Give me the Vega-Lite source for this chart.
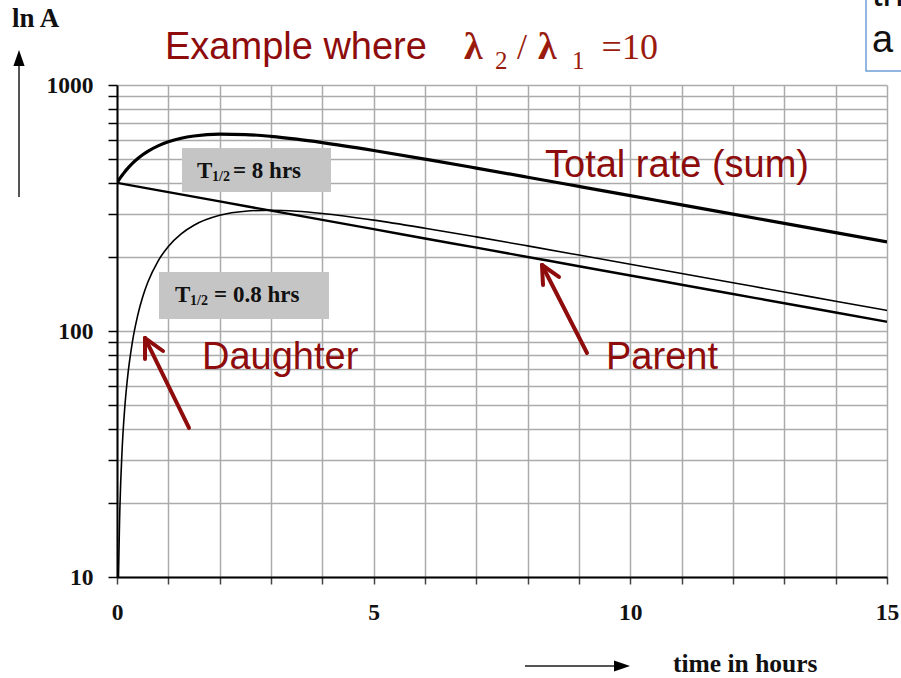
{
  "$schema": "https://vega.github.io/schema/vega-lite/v6.json",
  "width": 770,
  "height": 492,
  "autosize": {"type": "none"},
  "padding": {"left": 117, "top": 85, "right": 14, "bottom": 101},
  "background": "white",
  "config": {"view": {"stroke": null}},
  "datasets": {
    "curves": [
      {"series": "Total", "t": 0, "v": 400}, {"series": "Total", "t": 0.01, "v": 403.1}, {"series": "Total", "t": 0.03, "v": 409.2},
      {"series": "Total", "t": 0.05, "v": 415.2}, {"series": "Total", "t": 0.1, "v": 429.6}, {"series": "Total", "t": 0.15, "v": 443.3},
      {"series": "Total", "t": 0.2, "v": 456.2}, {"series": "Total", "t": 0.3, "v": 480.1}, {"series": "Total", "t": 0.4, "v": 501.4},
      {"series": "Total", "t": 0.5, "v": 520.5}, {"series": "Total", "t": 0.6, "v": 537.4}, {"series": "Total", "t": 0.8, "v": 565.7},
      {"series": "Total", "t": 1, "v": 587.5}, {"series": "Total", "t": 1.25, "v": 607.3}, {"series": "Total", "t": 1.5, "v": 620.4},
      {"series": "Total", "t": 2, "v": 631.5}, {"series": "Total", "t": 2.5, "v": 629.0}, {"series": "Total", "t": 3, "v": 618.1},
      {"series": "Total", "t": 3.5, "v": 602.1}, {"series": "Total", "t": 4, "v": 583.2}, {"series": "Total", "t": 5, "v": 541.7},
      {"series": "Total", "t": 6, "v": 499.7}, {"series": "Total", "t": 7, "v": 459.4}, {"series": "Total", "t": 8, "v": 421.8},
      {"series": "Total", "t": 9, "v": 387.0}, {"series": "Total", "t": 10, "v": 355.0}, {"series": "Total", "t": 11, "v": 325.5},
      {"series": "Total", "t": 12, "v": 298.5}, {"series": "Total", "t": 13, "v": 273.8}, {"series": "Total", "t": 14, "v": 251.1},
      {"series": "Total", "t": 15, "v": 230.2},
      {"series": "Parent", "t": 0, "v": 400}, {"series": "Parent", "t": 1, "v": 366.8}, {"series": "Parent", "t": 2, "v": 336.4},
      {"series": "Parent", "t": 3, "v": 308.4}, {"series": "Parent", "t": 4, "v": 282.8}, {"series": "Parent", "t": 5, "v": 259.4},
      {"series": "Parent", "t": 6, "v": 237.8}, {"series": "Parent", "t": 7, "v": 218.1}, {"series": "Parent", "t": 8, "v": 200},
      {"series": "Parent", "t": 9, "v": 183.4}, {"series": "Parent", "t": 10, "v": 168.2}, {"series": "Parent", "t": 11, "v": 154.2},
      {"series": "Parent", "t": 12, "v": 141.4}, {"series": "Parent", "t": 13, "v": 129.7}, {"series": "Parent", "t": 14, "v": 118.9},
      {"series": "Parent", "t": 15, "v": 109.1},
      {"series": "Daughter", "t": 0.005, "v": 1.73}, {"series": "Daughter", "t": 0.01, "v": 3.45}, {"series": "Daughter", "t": 0.02, "v": 6.87},
      {"series": "Daughter", "t": 0.03, "v": 10.25}, {"series": "Daughter", "t": 0.05, "v": 16.92}, {"series": "Daughter", "t": 0.1, "v": 33.06},
      {"series": "Daughter", "t": 0.15, "v": 48.43}, {"series": "Daughter", "t": 0.2, "v": 63.08}, {"series": "Daughter", "t": 0.3, "v": 90.33},
      {"series": "Daughter", "t": 0.4, "v": 115.0}, {"series": "Daughter", "t": 0.5, "v": 137.4}, {"series": "Daughter", "t": 0.6, "v": 157.7},
      {"series": "Daughter", "t": 0.8, "v": 192.5}, {"series": "Daughter", "t": 1, "v": 220.7}, {"series": "Daughter", "t": 1.25, "v": 248.4},
      {"series": "Daughter", "t": 1.5, "v": 269.1}, {"series": "Daughter", "t": 2, "v": 295.2}, {"series": "Daughter", "t": 2.5, "v": 306.9},
      {"series": "Daughter", "t": 3, "v": 309.7}, {"series": "Daughter", "t": 3.5, "v": 306.8}, {"series": "Daughter", "t": 4, "v": 300.4},
      {"series": "Daughter", "t": 5, "v": 282.4}, {"series": "Daughter", "t": 6, "v": 261.8}, {"series": "Daughter", "t": 7, "v": 241.3},
      {"series": "Daughter", "t": 8, "v": 221.8}, {"series": "Daughter", "t": 9, "v": 203.6}, {"series": "Daughter", "t": 10, "v": 186.8},
      {"series": "Daughter", "t": 11, "v": 171.3}, {"series": "Daughter", "t": 12, "v": 157.1}, {"series": "Daughter", "t": 13, "v": 144.1},
      {"series": "Daughter", "t": 14, "v": 132.1}, {"series": "Daughter", "t": 15, "v": 121.2}
    ],
    "boxes": [
      {"label": "T1/2 = 8 hrs", "t": 1.266, "t2": 4.169, "v": 554.5, "v2": 367.3},
      {"label": "T1/2 = 0.8 hrs", "t": 0.818, "t2": 4.130, "v": 173.7, "v2": 111.9}
    ],
    "boxText": [
      {"label": "T", "t": 1.558, "v": 418.8},
      {"label": "= 8 hrs", "t": 2.26, "v": 418.8},
      {"label": "T", "t": 1.13, "v": 131.2},
      {"label": "= 0.8 hrs", "t": 1.89, "v": 131.2}
    ],
    "boxSub": [
      {"label": "1/2", "t": 1.851, "v": 407.2},
      {"label": "1/2", "t": 1.422, "v": 127.5}
    ],
    "redText": [
      {"label": "Example where", "t": 0.935, "v": 1275.7},
      {"label": "Total rate (sum)", "t": 8.338, "v": 422.7},
      {"label": "Daughter", "t": 1.656, "v": 70.06},
      {"label": "Parent", "t": 9.526, "v": 70.06}
    ],
    "lambdas": [
      {"label": "λ", "t": 6.76, "v": 1275.7},
      {"label": "λ", "t": 8.202, "v": 1275.7}
    ],
    "ratioText": [
      {"label": "/", "t": 7.792, "v": 1275.7},
      {"label": "=10", "t": 9.44, "v": 1275.7}
    ],
    "ratioSub": [
      {"label": "2", "t": 7.364, "v": 1161.4},
      {"label": "1", "t": 8.864, "v": 1161.4}
    ],
    "pointers": [
      {"label": "Daughter", "t": 1.4026, "v": 40.34, "t2": 0.5455, "v2": 93.65},
      {"label": "Daughter", "t": 0.5455, "v": 93.65, "t2": 0.5455, "v2": 76.93},
      {"label": "Daughter", "t": 0.5455, "v": 93.65, "t2": 0.8961, "v2": 82.93},
      {"label": "Parent", "t": 9.156, "v": 81.38, "t2": 8.279, "v2": 185.48},
      {"label": "Parent", "t": 8.279, "v": 185.48, "t2": 8.299, "v2": 153.8},
      {"label": "Parent", "t": 8.279, "v": 185.48, "t2": 8.61, "v2": 165.8}
    ],
    "axisArrows": [
      {"label": "ln A", "t": -1.909, "v": 350.5, "t2": -1.909, "v2": 1217},
      {"label": "time in hours", "t": 7.948, "v": 4.347, "t2": 9.701, "v2": 4.347}
    ],
    "cornerBox": [
      {"t": 14.591, "t2": 15.45, "v": 2400, "v2": 1140}
    ],
    "cornerText": [
      {"label": "th", "t": 14.708, "v": 2094.7},
      {"label": "a", "t": 14.708, "v": 1361.8}
    ]
  },
  "encoding": {
    "x": {
      "field": "t", "type": "quantitative",
      "scale": {"domain": [0, 15], "nice": false, "zero": false},
      "axis": {
        "title": null,
        "values": [0, 1, 2, 3, 4, 5, 6, 7, 8, 9, 10, 11, 12, 13, 14, 15],
        "labelExpr": "datum.value % 5 === 0 ? datum.label : ''",
        "labelFlush": false, "labelOverlap": false,
        "labelFont": "Liberation Serif", "labelFontWeight": "bold", "labelFontSize": 23.5, "labelColor": "#111111",
        "labelPadding": 16,
        "tickSize": 7, "tickColor": "#444444", "tickWidth": 1.5,
        "domainColor": "#000000", "domainWidth": 2,
        "grid": true, "gridColor": "#ababab", "gridWidth": 1.5
      }
    },
    "y": {
      "field": "v", "type": "quantitative",
      "scale": {"type": "log", "domain": [10, 1000], "nice": false},
      "axis": {
        "title": null,
        "values": [10, 20, 30, 40, 50, 60, 70, 80, 90, 100, 200, 300, 400, 500, 600, 700, 800, 900, 1000],
        "format": "d",
        "labelExpr": "datum.value === 10 || datum.value === 100 || datum.value === 1000 ? datum.label : ''",
        "labelOverlap": false, "labelFlush": false,
        "labelFont": "Liberation Serif", "labelFontWeight": "bold", "labelFontSize": 23.5, "labelColor": "#111111",
        "labelPadding": 15,
        "tickSize": 9, "tickColor": "#000000", "tickWidth": 1.5,
        "domainColor": "#000000", "domainWidth": 2,
        "grid": true, "gridColor": "#ababab", "gridWidth": 1.5
      }
    }
  },
  "layer": [
    {
      "data": {"name": "boxes"},
      "mark": {"type": "rect", "fill": "#c5c5c5"},
      "encoding": {"x2": {"field": "t2"}, "y2": {"field": "v2"}}
    },
    {
      "data": {"name": "cornerBox"},
      "mark": {"type": "rect", "fill": "#ffffff", "stroke": "#6e9fd6", "strokeWidth": 1.5},
      "encoding": {"x2": {"field": "t2"}, "y2": {"field": "v2"}}
    },
    {
      "mark": {"type": "rule", "color": "#5c5c5c", "strokeWidth": 3},
      "encoding": {"x": {"datum": 15}, "y": null}
    },
    {
      "data": {"name": "curves"},
      "mark": {"type": "line", "color": "#000000", "clip": true, "interpolate": "monotone"},
      "encoding": {
        "detail": {"field": "series"},
        "strokeWidth": {
          "field": "series", "type": "nominal",
          "scale": {"domain": ["Total", "Parent", "Daughter"], "range": [3.2, 1.6, 1.6]},
          "legend": null
        }
      }
    },
    {
      "data": {"name": "boxText"},
      "mark": {"type": "text", "align": "left", "baseline": "alphabetic", "font": "Liberation Serif", "fontWeight": "bold", "fontSize": 23, "color": "#111111"},
      "encoding": {"text": {"field": "label"}}
    },
    {
      "data": {"name": "boxSub"},
      "mark": {"type": "text", "align": "left", "baseline": "alphabetic", "font": "Liberation Serif", "fontWeight": "bold", "fontSize": 14, "color": "#111111"},
      "encoding": {"text": {"field": "label"}}
    },
    {
      "data": {"name": "redText"},
      "mark": {"type": "text", "align": "left", "baseline": "alphabetic", "font": "Liberation Sans", "fontSize": 38, "color": "#8e0c0c"},
      "encoding": {"text": {"field": "label"}}
    },
    {
      "data": {"name": "lambdas"},
      "mark": {"type": "text", "align": "left", "baseline": "alphabetic", "font": "Liberation Serif", "fontWeight": "bold", "fontSize": 38, "color": "#9a1b0e"},
      "encoding": {"text": {"field": "label"}}
    },
    {
      "data": {"name": "ratioText"},
      "mark": {"type": "text", "align": "left", "baseline": "alphabetic", "font": "Liberation Serif", "fontSize": 36, "color": "#9a1b0e"},
      "encoding": {"text": {"field": "label"}}
    },
    {
      "data": {"name": "ratioSub"},
      "mark": {"type": "text", "align": "left", "baseline": "alphabetic", "font": "Liberation Serif", "fontSize": 25, "color": "#9a1b0e"},
      "encoding": {"text": {"field": "label"}}
    },
    {
      "data": {"name": "pointers"},
      "mark": {"type": "rule", "color": "#8e0c0c", "strokeWidth": 4, "strokeCap": "round"},
      "encoding": {"x2": {"field": "t2"}, "y2": {"field": "v2"}}
    },
    {
      "data": {"name": "axisArrows"},
      "mark": {"type": "rule", "color": "#555555", "strokeWidth": 2},
      "encoding": {"x2": {"field": "t2"}, "y2": {"field": "v2"}}
    },
    {
      "data": {"values": [{"label": "ln A", "t": -1.909, "v": 1287.6}]},
      "mark": {"type": "point", "shape": "M-0.7,1L0.7,1L0,-1Z", "size": 256, "filled": true, "color": "#000000", "opacity": 1},
      "encoding": {}
    },
    {
      "data": {"values": [{"label": "time in hours", "t": 9.838, "v": 4.347}]},
      "mark": {"type": "point", "shape": "M-1,-0.7L-1,0.7L1,0Z", "size": 256, "filled": true, "color": "#000000", "opacity": 1},
      "encoding": {}
    },
    {
      "data": {"values": [{"label": "ln A", "t": -2.045, "v": 1721}]},
      "mark": {"type": "text", "align": "left", "baseline": "alphabetic", "font": "Liberation Serif", "fontWeight": "bold", "fontSize": 27, "color": "#111111"},
      "encoding": {"text": {"field": "label"}}
    },
    {
      "data": {"values": [{"label": "time in hours", "t": 10.831, "v": 4.11}]},
      "mark": {"type": "text", "align": "left", "baseline": "alphabetic", "font": "Liberation Serif", "fontWeight": "bold", "fontSize": 25.5, "color": "#111111"},
      "encoding": {"text": {"field": "label"}}
    },
    {
      "data": {"name": "cornerText"},
      "mark": {"type": "text", "align": "left", "baseline": "alphabetic", "font": "Liberation Sans", "fontSize": 38, "color": "#111111"},
      "encoding": {"text": {"field": "label"}}
    }
  ]
}
